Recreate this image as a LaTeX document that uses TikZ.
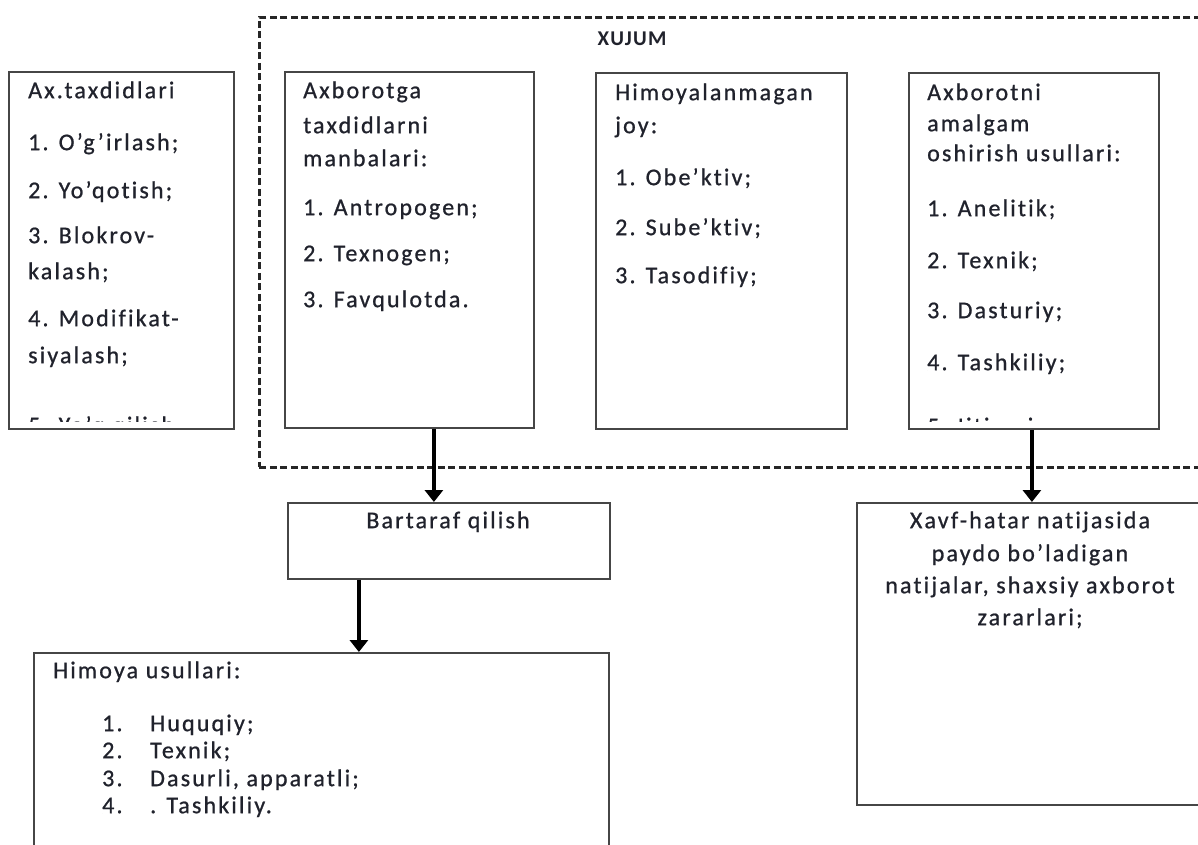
\documentclass[tikz,border=0pt]{standalone}
\usepackage{fontspec}
\newfontfamily\bodyf{Carlito}[LetterSpace=9,Ligatures={NoCommon},FakeBold=0.8]
\newfontfamily\headf{Carlito}[LetterSpace=6,Ligatures={NoCommon}]
\usetikzlibrary{arrows.meta}
\definecolor{txtc}{RGB}{32,34,44}
\definecolor{boxc}{RGB}{70,70,70}
\begin{document}
\begin{tikzpicture}[x=1pt,y=-1pt,
  box/.style={draw=boxc,line width=1.8pt,rectangle,inner sep=0pt,anchor=north west},
  dashbox/.style={draw=black!85,line width=2.6pt,dash pattern=on 7pt off 3.5pt,rectangle,inner sep=0pt,anchor=north west},
  txt/.style={anchor=mid west,inner sep=0pt,text=txtc,font=\bodyf\fontsize{24}{28}\selectfont},
  ctxt/.style={anchor=mid,inner sep=0pt,text=txtc,font=\bodyf\fontsize{24}{28}\selectfont},
  arr/.style={-{Triangle[width=18pt,length=12pt]},line width=3.8pt,black}
]
\useasboundingbox (0,0) rectangle (1198,845);
\fill[white] (0,0) rectangle (1198,845);

% dashed XUJUM frame
\node[dashbox,minimum width=965pt,minimum height=450pt] (frame) at (258,16) {};
\node[anchor=mid,inner sep=0pt,text=txtc,font=\headf\bfseries\fontsize{21}{24}\selectfont] (xt) at (632,43) {XUJUM};

% boxes
\node[box,minimum width=225pt,minimum height=357pt] (lb) at (8,71) {};
\node[box,minimum width=249pt,minimum height=356pt] (b2) at (284,71) {};
\node[box,minimum width=251pt,minimum height=356pt] (b3) at (595,72) {};
\node[box,minimum width=250pt,minimum height=356pt] (b4) at (908,72) {};
\node[box,minimum width=322pt,minimum height=76pt] (bart) at (287,502) {};
\node[box,minimum width=575pt,minimum height=230pt] (him) at (33,652) {};
\node[box,minimum width=349pt,minimum height=302pt] (rb) at (856,502) {};

% left box text
\node[txt] (l0) at (28,96) {Ax.taxdidlari};
\node[txt] (l1) at (28,148) {1. O’g’irlash;};
\node[txt] (l2) at (28,196) {2. Yo’qotish;};
\node[txt] (l3) at (28,241) {3. Blokrov-};
\node[txt] (l3b) at (28,277) {kalash;};
\node[txt] (l4) at (28,324) {4. Modifikat-};
\node[txt] (l4b) at (28,361) {siyalash;};
\begin{scope}
  \clip (10,400) rectangle (231,421);
  \node[txt] (l5) at (28,431) {5. Yo’q qilish;};
\end{scope}

% box 2 text
\node[txt] (a0) at (303,96) {Axborotga};
\node[txt] (a1) at (303,131) {taxdidlarni};
\node[txt] (a2) at (303,164) {manbalari:};
\node[txt] (a3) at (303,213) {1. Antropogen;};
\node[txt] (a4) at (303,259) {2. Texnogen;};
\node[txt] (a5) at (303,305) {3. Favqulotda.};

% box 3 text
\node[txt] (h0) at (615,98) {Himoyalanmagan};
\node[txt] (h1) at (615,131) {joy:};
\node[txt] (h2) at (615,183) {1. Obe’ktiv;};
\node[txt] (h3) at (615,233) {2. Sube’ktiv;};
\node[txt] (h4) at (615,281) {3. Tasodifiy;};

% box 4 text
\node[txt] (x0) at (927,98) {Axborotni};
\node[txt] (x1) at (927,129) {amalgam};
\node[txt] (x2) at (927,159) {oshirish usullari:};
\node[txt] (x3) at (927,214) {1. Anelitik;};
\node[txt] (x4) at (927,266) {2. Texnik;};
\node[txt] (x5) at (927,316) {3. Dasturiy;};
\node[txt] (x6) at (927,368) {4. Tashkiliy;};
\begin{scope}
  \clip (910,400) rectangle (1156,421);
  \node[txt] (x7) at (927,432) {5. Ijtimoiy;};
\end{scope}

% Bartaraf
\node[ctxt] (bt) at (448,526) {Bartaraf qilish};

% Himoya usullari
\node[txt] (m0) at (53,676) {Himoya usullari:};
\node[txt] (m1n) at (102,729) {1.};
\node[txt] (m1) at (150,729) {Huquqiy;};
\node[txt] (m2n) at (102,756) {2.};
\node[txt] (m2) at (150,756) {Texnik;};
\node[txt] (m3n) at (102,784) {3.};
\node[txt] (m3) at (150,784) {Dasurli, apparatli;};
\node[txt] (m4n) at (102,811) {4.};
\node[txt] (m4) at (150,811) {. Tashkiliy.};

% right box text
\node[ctxt] (r0) at (1030,526) {Xavf-hatar natijasida};
\node[ctxt] (r1) at (1030,559) {paydo bo’ladigan};
\node[ctxt] (r2) at (1030,591) {natijalar, shaxsiy axborot};
\node[ctxt] (r3) at (1030,623) {zararlari;};

% arrows
\draw[arr] ([xshift=24.5pt]b2.south) -- ([xshift=-15pt]bart.north);
\draw[arr] ([xshift=-90pt]bart.south) -- ([xshift=37.5pt]him.north);
\draw[arr] ([xshift=-2pt]b4.south) -- ([xshift=0.5pt]rb.north);
\end{tikzpicture}
\end{document}
